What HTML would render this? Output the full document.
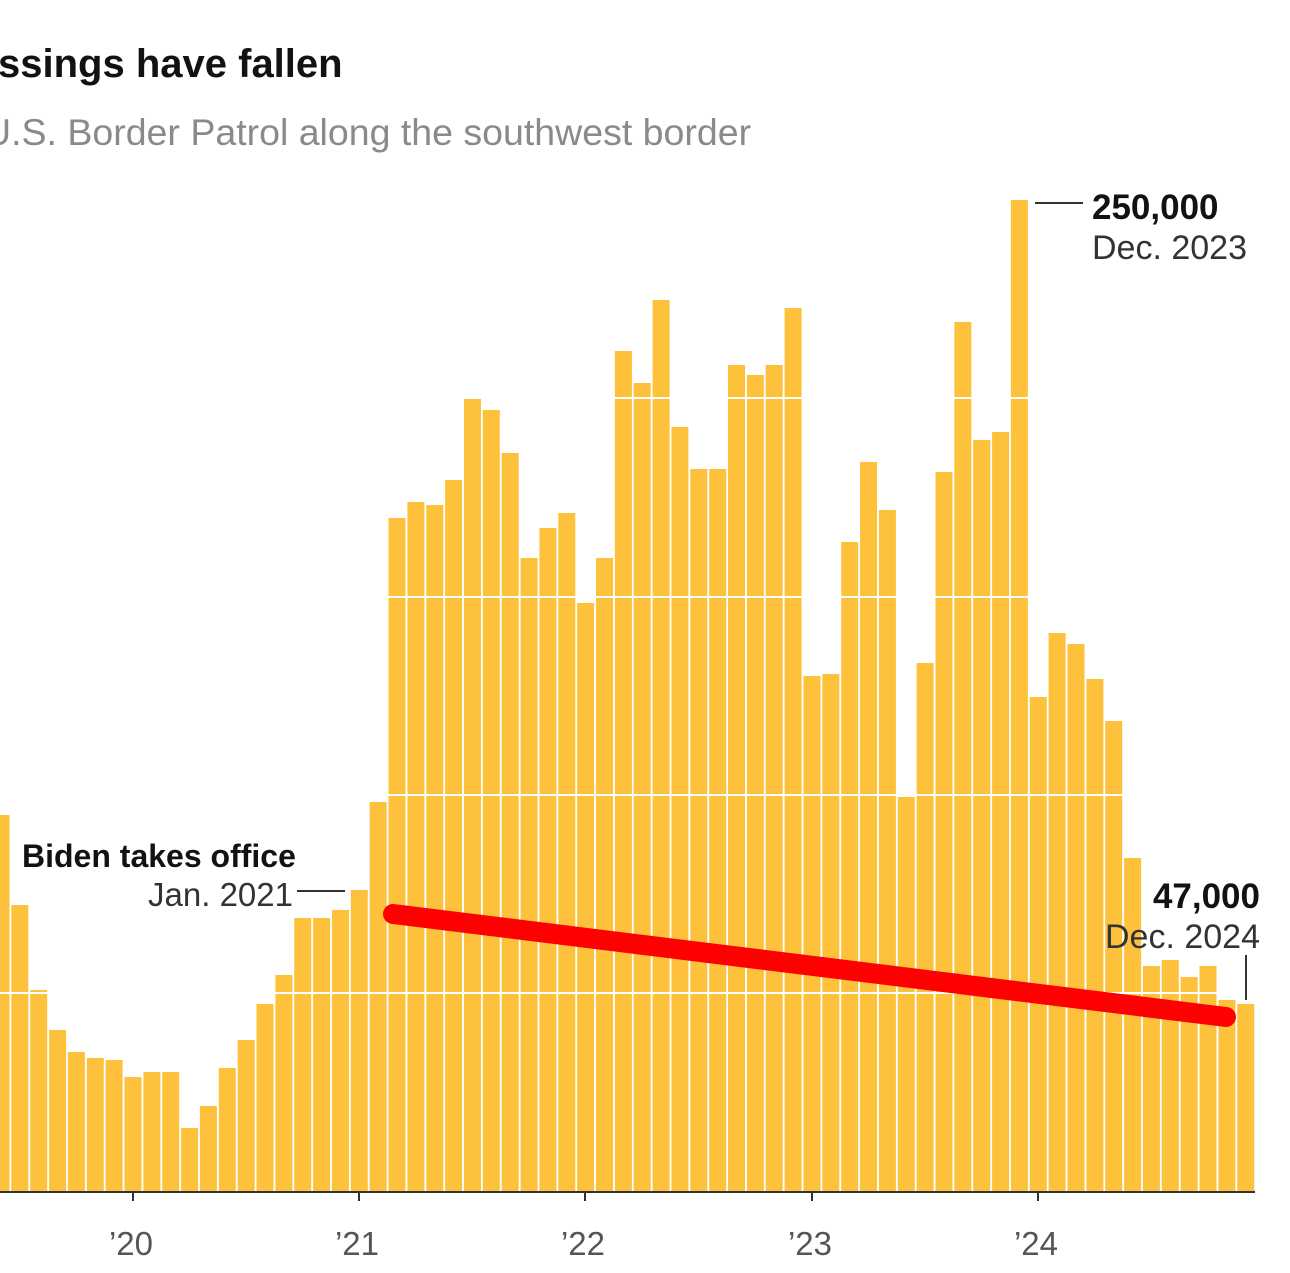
<!DOCTYPE html>
<html><head><meta charset="utf-8"><style>
html,body{margin:0;padding:0;background:#fff;}
svg{display:block;font-family:"Liberation Sans",Arial,sans-serif;}
</style></head><body>
<svg width="1290" height="1273" viewBox="0 0 1290 1273" xmlns="http://www.w3.org/2000/svg">
<text x="-2" y="77" font-size="40" font-weight="bold" fill="#121212">ssings have fallen</text>
<text x="-16" y="145" font-size="37.5" fill="#8a8a8a">U.S. Border Patrol along the southwest border</text>
<g fill="#fdc13c">
<path d="M0 815V1192h9.5V815z"/>
<path d="M11.3 905V1192h17V905z"/>
<path d="M30.2 990V1192h17V990z"/>
<path d="M49.1 1030V1192h17V1030z"/>
<path d="M67.9 1052V1192h17V1052z"/>
<path d="M86.8 1058V1192h17V1058z"/>
<path d="M105.6 1060V1192h17V1060z"/>
<path d="M124.5 1077V1192h17V1077z"/>
<path d="M143.4 1072V1192h17V1072z"/>
<path d="M162.2 1072V1192h17V1072z"/>
<path d="M181.1 1128V1192h17V1128z"/>
<path d="M199.9 1106V1192h17V1106z"/>
<path d="M218.8 1068V1192h17V1068z"/>
<path d="M237.7 1040V1192h17V1040z"/>
<path d="M256.5 1004V1192h17V1004z"/>
<path d="M275.4 975V1192h17V975z"/>
<path d="M294.2 918V1192h17V918z"/>
<path d="M313.1 918V1192h17V918z"/>
<path d="M332 910V1192h17V910z"/>
<path d="M350.8 890V1192h17V890z"/>
<path d="M369.7 802V1192h17V802z"/>
<path d="M388.5 518V1192h17V518z"/>
<path d="M407.4 502V1192h17V502z"/>
<path d="M426.3 505V1192h17V505z"/>
<path d="M445.1 480V1192h17V480z"/>
<path d="M464 397V1192h17V397z"/>
<path d="M482.8 410V1192h17V410z"/>
<path d="M501.7 453V1192h17V453z"/>
<path d="M520.6 558V1192h17V558z"/>
<path d="M539.4 528V1192h17V528z"/>
<path d="M558.3 513V1192h17V513z"/>
<path d="M577.1 603V1192h17V603z"/>
<path d="M596 558V1192h17V558z"/>
<path d="M614.9 351V1192h17V351z"/>
<path d="M633.7 383V1192h17V383z"/>
<path d="M652.6 300V1192h17V300z"/>
<path d="M671.4 427V1192h17V427z"/>
<path d="M690.3 469V1192h17V469z"/>
<path d="M709.2 469V1192h17V469z"/>
<path d="M728 365V1192h17V365z"/>
<path d="M746.9 375V1192h17V375z"/>
<path d="M765.7 365V1192h17V365z"/>
<path d="M784.6 308V1192h17V308z"/>
<path d="M803.5 676V1192h17V676z"/>
<path d="M822.3 674V1192h17V674z"/>
<path d="M841.2 542V1192h17V542z"/>
<path d="M860 462V1192h17V462z"/>
<path d="M878.9 510V1192h17V510z"/>
<path d="M897.8 797V1192h17V797z"/>
<path d="M916.6 663V1192h17V663z"/>
<path d="M935.5 472V1192h17V472z"/>
<path d="M954.3 322V1192h17V322z"/>
<path d="M973.2 440V1192h17V440z"/>
<path d="M992.1 432V1192h17V432z"/>
<path d="M1010.9 200V1192h17V200z"/>
<path d="M1029.8 697V1192h17V697z"/>
<path d="M1048.6 633V1192h17V633z"/>
<path d="M1067.5 644V1192h17V644z"/>
<path d="M1086.4 679V1192h17V679z"/>
<path d="M1105.2 721V1192h17V721z"/>
<path d="M1124.1 858V1192h17V858z"/>
<path d="M1142.9 966V1192h17V966z"/>
<path d="M1161.8 960V1192h17V960z"/>
<path d="M1180.7 977V1192h17V977z"/>
<path d="M1199.5 966V1192h17V966z"/>
<path d="M1218.4 1000V1192h17V1000z"/>
<path d="M1237.2 1004V1192h17V1004z"/>
</g>
<g stroke="#fff" stroke-width="2">
<line x1="0" y1="993" x2="1254" y2="993"/>
<line x1="0" y1="795" x2="1254" y2="795"/>
<line x1="0" y1="597" x2="1254" y2="597"/>
<line x1="0" y1="398" x2="1254" y2="398"/>
</g>
<line x1="0" y1="1192" x2="1255" y2="1192" stroke="#333" stroke-width="2"/>
<g stroke="#333" stroke-width="2">
<line x1="133" y1="1192" x2="133" y2="1201"/><line x1="359" y1="1192" x2="359" y2="1201"/>
<line x1="585" y1="1192" x2="585" y2="1201"/><line x1="812" y1="1192" x2="812" y2="1201"/>
<line x1="1038" y1="1192" x2="1038" y2="1201"/>
</g>
<g font-size="33" fill="#555" text-anchor="middle">
<text x="131" y="1255">’20</text><text x="357" y="1255">’21</text><text x="583" y="1255">’22</text><text x="810" y="1255">’23</text><text x="1036" y="1255">’24</text>
</g>
<line x1="1035" y1="203" x2="1083" y2="203" stroke="#333" stroke-width="2"/>
<text x="1092" y="219" font-size="35" font-weight="bold" fill="#121212">250,000</text>
<text x="1092" y="259" font-size="34" fill="#333">Dec. 2023</text>
<text x="22" y="867" font-size="32" font-weight="bold" fill="#121212">Biden takes office</text>
<text x="293" y="906" font-size="33" fill="#333" text-anchor="end">Jan. 2021</text>
<line x1="297" y1="891" x2="345" y2="891" stroke="#333" stroke-width="2"/>
<text x="1260" y="908" font-size="35" font-weight="bold" fill="#121212" text-anchor="end">47,000</text>
<text x="1260" y="948" font-size="34" fill="#333" text-anchor="end">Dec. 2024</text>
<line x1="1246" y1="955" x2="1246" y2="1000" stroke="#333" stroke-width="2"/>
<line x1="393" y1="914" x2="1226" y2="1017" stroke="#f00" stroke-width="20" stroke-linecap="round"/>
</svg>
</body></html>
